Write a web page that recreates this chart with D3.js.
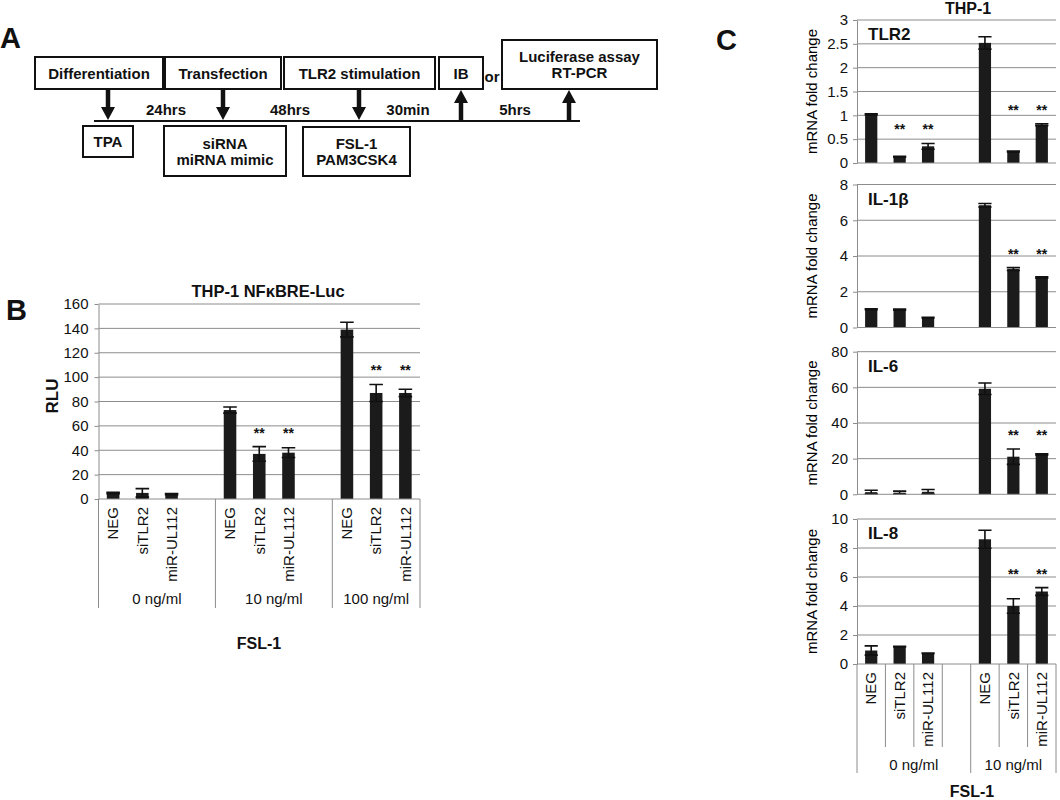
<!DOCTYPE html>
<meta charset="utf-8">
<style>
  body { margin: 0; background: #fff; }
  svg { font-family: "Liberation Sans", Arial, sans-serif; }
  .scheme rect { fill: #fff; stroke: #111; stroke-width: 2px; }
  .scheme text { font-size: 15px; font-weight: bold; text-anchor: middle; fill: #111; }
  .grid line, .sep line { stroke: #8c8c8c; stroke-width: 1px; }
  .axis path, .axis line { stroke: #8c8c8c; }
  .axis text { font-size: 15px; fill: #111; }
  .bar { fill: #1b1b1b; }
  .err { stroke: #111; stroke-width: 1.6px; fill: none; }
  .cat { font-size: 15px; fill: #111; text-anchor: end; }
  .grp { font-size: 15px; fill: #111; text-anchor: middle; }
  .bold { font-weight: bold; fill: #111; }
  .star { font-size: 14px; font-weight: bold; text-anchor: middle; fill: #111; }
</style>
<svg width="1060" height="800"></svg>
<script src="https://cdn.jsdelivr.net/npm/d3@7"></script>
<script>
// ---- data ----
var treatments = ["NEG", "siTLR2", "miR-UL112"];

// panel B: THP-1 NFkBRE-Luc
var dosesB = ["0 ng/ml", "10 ng/ml", "100 ng/ml"];
var rluMean = [5, 5, 4, 73, 37, 38, 139, 87, 87];
var rluErr = [0.6, 3.5, 0.5, 2.5, 6, 4, 6, 7, 3];
var rluStar = [0, 0, 0, 0, 1, 1, 0, 1, 1];
var rluTicks = [0, 20, 40, 60, 80, 100, 120, 140, 160];

// panel C: THP-1 mRNA fold change
var dosesC = ["0 ng/ml", "10 ng/ml"];
var genes = ["TLR2", "IL-1β", "IL-6", "IL-8"];
var tlr2Mean = [1.02, 0.13, 0.35, 2.52, 0.24, 0.80];
var tlr2Err = [0.01, 0.01, 0.06, 0.13, 0.01, 0.02];
var tlr2Star = [0, 1, 1, 0, 1, 1];
var tlr2Ticks = [0, 0.5, 1, 1.5, 2, 2.5, 3];
var il1bMean = [1.02, 1.0, 0.55, 6.84, 3.27, 2.8];
var il1bErr = [0.02, 0.03, 0.02, 0.1, 0.08, 0.04];
var il1bStar = [0, 0, 0, 0, 1, 1];
var il1bTicks = [0, 2, 4, 6, 8];
var il6Mean = [1.2, 0.9, 1.4, 59.2, 21.1, 22.4];
var il6Err = [1.1, 0.9, 1.3, 3.2, 4.3, 0.3];
var il6Star = [0, 0, 0, 0, 1, 1];
var il6Ticks = [0, 20, 40, 60, 80];
var il8Mean = [0.93, 1.2, 0.74, 8.6, 4.0, 5.0];
var il8Err = [0.32, 0.02, 0.02, 0.62, 0.5, 0.27];
var il8Star = [0, 0, 0, 0, 1, 1];
var il8Ticks = [0, 2, 4, 6, 8, 10];

var svg = d3.select("svg");

// ---- panel letters ----
[["A", 0, 48], ["B", 6, 320], ["C", 716, 50]].forEach(function(p) {
  svg.append("text").attr("class", "bold").attr("x", p[1]).attr("y", p[2])
     .style("font-size", "29px").text(p[0]);
});

// ---- panel A: scheme ----
var scheme = svg.append("g").attr("class", "scheme");
var boxes = [
  { x: 35,  y: 57,  w: 128, h: 32, lines: ["Differentiation"] },
  { x: 165, y: 57,  w: 116, h: 32, lines: ["Transfection"] },
  { x: 284, y: 57,  w: 151, h: 32, lines: ["TLR2 stimulation"] },
  { x: 439, y: 57,  w: 44,  h: 32, lines: ["IB"] },
  { x: 502, y: 40,  w: 155, h: 49, lines: ["Luciferase assay", "RT-PCR"] },
  { x: 83,  y: 126, w: 50,  h: 31, lines: ["TPA"] },
  { x: 164, y: 126, w: 122, h: 50, lines: ["siRNA", "miRNA mimic"] },
  { x: 303, y: 127, w: 107, h: 49, lines: ["FSL-1", "PAM3CSK4"] }
];
boxes.forEach(function(b) {
  scheme.append("rect").attr("x", b.x).attr("y", b.y).attr("width", b.w).attr("height", b.h);
  b.lines.forEach(function(l, i) {
    scheme.append("text").attr("x", b.x + b.w / 2)
      .attr("y", b.y + b.h / 2 + 5.5 + (i - (b.lines.length - 1) / 2) * 16).text(l);
  });
});
scheme.append("text").attr("x", 492).attr("y", 82).text("or");
scheme.append("line").attr("x1", 94).attr("x2", 580).attr("y1", 121).attr("y2", 121)
  .style("stroke", "#111").style("stroke-width", 2);
[108, 223, 359].forEach(function(x) {
  scheme.append("line").attr("x1", x).attr("x2", x).attr("y1", 89).attr("y2", 108)
    .style("stroke", "#111").style("stroke-width", 4.5);
  scheme.append("path").attr("d", "M" + (x - 7) + ",107L" + (x + 7) + ",107L" + x + ",120Z").style("fill", "#111");
});
[461, 569].forEach(function(x) {
  scheme.append("line").attr("x1", x).attr("x2", x).attr("y1", 101).attr("y2", 120)
    .style("stroke", "#111").style("stroke-width", 4.5);
  scheme.append("path").attr("d", "M" + (x - 7) + ",103L" + (x + 7) + ",103L" + x + ",90Z").style("fill", "#111");
});
[["24hrs", 166], ["48hrs", 290], ["30min", 408], ["5hrs", 515]].forEach(function(t) {
  scheme.append("text").attr("x", t[1]).attr("y", 115).text(t[0]);
});

// ---- bar chart helper ----
function slotsFor(doses) {
  var s = [];
  doses.forEach(function(d, gi) {
    treatments.forEach(function(t) { s.push(gi + "|" + t); });
    if (gi < doses.length - 1) s.push(gi + "|gap");
  });
  return s;
}

function barChart(o) {
  var g = svg.append("g");
  var slots = slotsFor(o.doses);
  var x = d3.scaleBand().domain(slots).range([o.x0, o.x1]).paddingInner(0.57).paddingOuter(0.285);
  var y = d3.scaleLinear().domain([0, o.ticks[o.ticks.length - 1]]).range([o.y0, o.y1]);

  g.append("g").attr("class", "grid").selectAll("line")
    .data(o.ticks.slice(1)).enter().append("line")
    .attr("x1", o.x0).attr("x2", o.x1)
    .attr("y1", function(d) { return y(d); }).attr("y2", function(d) { return y(d); });

  g.append("g").attr("class", "axis").attr("transform", "translate(" + o.x0 + ",0)")
    .call(d3.axisLeft(y).tickValues(o.ticks).tickSize(4).tickSizeOuter(0).tickPadding(o.pad)
      .tickFormat(function(d) { return String(d); }));

  var rows = o.mean.map(function(m, i) {
    var gi = Math.floor(i / 3);
    return { key: gi + "|" + treatments[i % 3], gi: gi, m: m, e: o.err[i], star: o.star[i] };
  });
  var bw = x.bandwidth();
  g.selectAll(".bar").data(rows).enter().append("rect").attr("class", "bar")
    .attr("x", function(d) { return x(d.key); }).attr("width", bw)
    .attr("y", function(d) { return y(d.m); })
    .attr("height", function(d) { return o.y0 - y(d.m); });

  var cap = bw / 2 + 0.5;
  g.selectAll(".err").data(rows).enter().append("path").attr("class", "err")
    .attr("d", function(d) {
      var cx = x(d.key) + bw / 2, t = y(d.m + d.e), b = y(Math.max(0, d.m - d.e));
      return "M" + (cx - cap) + "," + t + "H" + (cx + cap) + "M" + cx + "," + t + "V" + b +
             "M" + (cx - cap) + "," + b + "H" + (cx + cap);
    });

  // significance stars: level with the highest starred error bar of each dose group
  var starred = rows.filter(function(d) { return d.star; });
  var top = d3.rollup(starred, function(v) { return d3.max(v, function(d) { return d.m + d.e; }); }, function(d) { return d.gi; });
  g.selectAll(".star").data(starred).enter().append("text").attr("class", "star")
    .attr("x", function(d) { return x(d.key) + bw / 2; })
    .attr("y", function(d) { return y(top.get(d.gi)) - 9; })
    .text("**");

  // zero line
  g.append("line").attr("x1", o.x0).attr("x2", o.x1).attr("y1", o.y0).attr("y2", o.y0)
    .style("stroke", "#8c8c8c");

  if (o.title) {
    g.append("text").attr("class", "bold").attr("x", o.x0 + 11).attr("y", o.y1 + 20)
      .style("font-size", "17px").text(o.title);
  }
  g.append("text").attr("transform", "translate(" + o.ylabX + "," + o.ylabY + ") rotate(-90)")
    .attr("class", o.ylabBold ? "bold" : null)
    .style("text-anchor", "middle").style("font-size", o.ylabSize)
    .attr("dy", "0.35em").text(o.ylab);

  return { g: g, x: x, y: y, slots: slots };
}

function categoryAxis(c, o) {
  var x = c.x, step = x.step(), start = x.range()[0], n = c.slots.length;
  var sep = c.g.append("g").attr("class", "sep");
  var groupStarts = o.doses.map(function(d, gi) { return gi * 4; });
  for (var i = 0; i <= n; i++) {
    var isGroup = i === n || groupStarts.indexOf(i) >= 0;
    if (!isGroup && !o.short) continue;
    sep.append("line").attr("x1", start + i * step).attr("x2", start + i * step)
      .attr("y1", o.y0).attr("y2", o.y0 + (isGroup ? o.longLen : o.shortLen));
  }
  c.g.selectAll(".cat").data(c.slots.filter(function(s) { return s.indexOf("gap") < 0; }))
    .enter().append("text").attr("class", "cat")
    .attr("transform", function(s) { return "translate(" + (x(s) + x.bandwidth() / 2) + "," + (o.y0 + 8) + ") rotate(-90)"; })
    .attr("dy", "0.35em")
    .text(function(s) { return s.split("|")[1]; });
  c.g.selectAll(".grp").data(o.doses).enter().append("text").attr("class", "grp")
    .attr("x", function(d, gi) {
      var a = gi * 4, b = Math.min(gi * 4 + 4, n);
      return start + (a + b) / 2 * step;
    })
    .attr("y", o.y0 + o.grpY).text(function(d) { return d; });
  c.g.append("text").attr("class", "bold").attr("x", o.fslX).attr("y", o.fslY)
    .style("font-size", "16px").style("text-anchor", "middle").text("FSL-1");
}

// ---- panel B ----
var b = barChart({
  doses: dosesB, x0: 98.5, x1: 420, y0: 499, y1: 304, ticks: rluTicks, pad: 6,
  mean: rluMean, err: rluErr, star: rluStar,
  ylab: "RLU", ylabX: 52, ylabY: 396, ylabBold: true, ylabSize: "17px"
});
svg.append("text").attr("class", "bold").attr("x", 268).attr("y", 297)
  .style("font-size", "16.5px").style("text-anchor", "middle").text("THP-1 NFκBRE-Luc");
categoryAxis(b, { doses: dosesB, y0: 499, short: false, longLen: 109, grpY: 105, fslX: 259, fslY: 649 });

// ---- panel C ----
var cPanels = [
  { mean: tlr2Mean, err: tlr2Err, star: tlr2Star, ticks: tlr2Ticks, y1: 20, y0: 163 },
  { mean: il1bMean, err: il1bErr, star: il1bStar, ticks: il1bTicks, y1: 184.5, y0: 327.5 },
  { mean: il6Mean, err: il6Err, star: il6Star, ticks: il6Ticks, y1: 351.7, y0: 494.3 },
  { mean: il8Mean, err: il8Err, star: il8Star, ticks: il8Ticks, y1: 519, y0: 664 }
];
var last;
cPanels.forEach(function(p, i) {
  last = barChart({
    doses: dosesC, x0: 857, x1: 1056, y0: p.y0, y1: p.y1, ticks: p.ticks, pad: 5,
    mean: p.mean, err: p.err, star: p.star, title: genes[i],
    ylab: "mRNA fold change", ylabX: 812, ylabY: (p.y0 + p.y1) / 2, ylabSize: "15px"
  });
});
svg.append("text").attr("class", "bold").attr("x", 968).attr("y", 14)
  .style("font-size", "16px").style("text-anchor", "middle").text("THP-1");
categoryAxis(last, { doses: dosesC, y0: 664, short: true, shortLen: 83, longLen: 109, grpY: 106, fslX: 972, fslY: 797 });
</script>
